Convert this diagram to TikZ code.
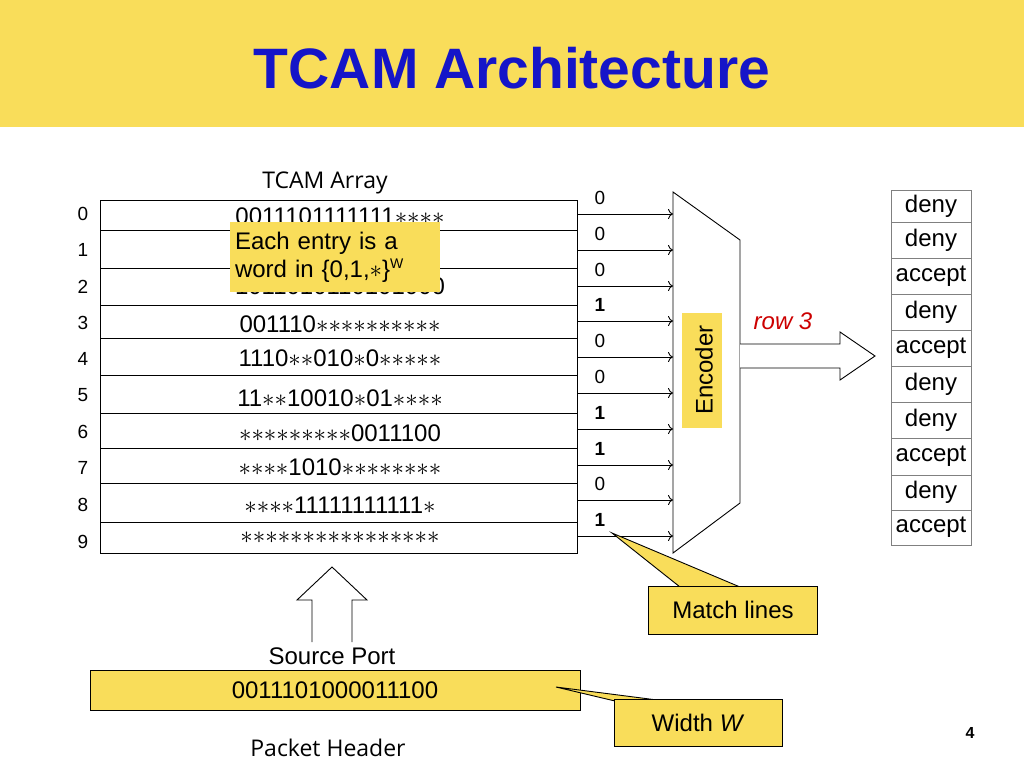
\documentclass[tikz,border=0pt]{standalone}
\usepackage{fontspec}
\setmainfont{Liberation Sans}
\newfontfamily\opensans{Open Sans}
\usepackage{xcolor}
\usetikzlibrary{arrows.meta}
\definecolor{slideyellow}{HTML}{F9DD5A}
\definecolor{titleblue}{HTML}{1515C8}
\newcommand{\st}{\ensuremath{\ast}}
\tikzset{
  big/.style={font=\fontsize{24}{28}\selectfont},
  small/.style={font=\fontsize{19}{22}\selectfont},
  yelbox/.style={fill=slideyellow,draw=black},
}
\begin{document}
\begin{tikzpicture}[x=1pt,y=-1pt,line width=0.9pt]
  \useasboundingbox (0,0) rectangle (1024,768);
  % title band
  \fill[slideyellow] (0,0) rectangle (1024,127);
  \node[font=\fontsize{57}{64}\selectfont\bfseries,text=titleblue] (title) at (512,68) {TCAM Architecture};

  % array rows
  \node[font=\opensans\fontsize{23}{28}\selectfont] (arrtitle) at (325,183) {TCAM Array};
  \foreach \ya/\yb [count=\i from 0] in {200/230,230/268,268/305,305/338,338/375,375/413,413/448,448/483,483/522,522/553}
    \draw[fill=white] (100,\ya) rectangle (577,\yb);
  \foreach \y/\t [count=\i from 0] in {
      216/0011101111111\st\st\st\st,
      250/1110101111110\st\st\st,
      286/1011010110101000,
      324/001110\st\st\st\st\st\st\st\st\st\st,
      358/1110\st\st010\st0\st\st\st\st\st,
      398/11\st\st10010\st01\st\st\st\st,
      433/\st\st\st\st\st\st\st\st\st0011100,
      467/\st\st\st\st1010\st\st\st\st\st\st\st\st,
      505/\st\st\st\st11111111111\st,
      538/\st\st\st\st\st\st\st\st\st\st\st\st\st\st\st\st}
    \node[big] (row\i) at (340,\y) {\t};
  \foreach \y [count=\i from 0] in {214,250,287,323,359,395,432,468,505,542}
    \node[small] (idx\i) at (83,\y) {\i};

  % callout on the array
  \node[fill=slideyellow,big,align=left,minimum width=210pt,minimum height=70pt,text width=200pt,inner sep=5pt] (entry) at (335,257)
    {Each entry is a\\ word in \{0,1,\st\}\textsuperscript{\fontsize{14}{16}\selectfont W}};

  % encoder
  \draw[fill=white] (673,192) -- (740,240) -- (740,503) -- (673,553) -- cycle;
  \fill[slideyellow] (682,313) rectangle (722,428);
  \node[big,rotate=90] (enc) at (704,370) {Encoder};

  % match lines
  \foreach \y/\b [count=\i from 0] in {214/0,250/0,286/0,321/\textbf{1},357/0,393/0,429/\textbf{1},465/\textbf{1},500/0,536/\textbf{1}} {
    \coordinate (ml\i) at (577,\y);
    \coordinate (mr\i) at (673,\y);
    \draw[-{To[length=5pt,width=10pt]}] (ml\i) -- (mr\i);
    \node[small] (bit\i) at (600,\y-16) {\b};
  }

  % output arrow
  \draw[fill=white] (740,344) -- (840,344) -- (840,332) -- (875,356) -- (840,380) -- (840,368) -- (740,368);
  \node[text=red!80!black,font=\itshape\fontsize{24}{28}\selectfont] (row3) at (783,321) {row 3};

  % action table
  \foreach \ya/\yb/\t in {190/222/deny,222/258/deny,258/294/accept,294/330/deny,330/366/accept,366/402/deny,402/438/deny,438/475/accept,475/510/deny,510/545/accept}
    \draw[draw=gray] (891,\ya) rectangle node[big,text=black] {\t} (971,\yb);

  % match lines callout
  \fill[slideyellow] (680,587) -- (612,533) -- (740,587) -- cycle;
  \draw (680,587) -- (612,533) -- (740,587);
  \node[yelbox,big,minimum width=169pt,minimum height=48pt] (mlbox) at (733,610) {Match lines};

  % packet header
  \draw[fill=white] (312,642) -- (312,600) -- (297,600) -- (332,567) -- (367,600) -- (352,600) -- (352,642);
  \node[big] (srcport) at (332,656) {Source Port};
  \node[yelbox,big,minimum width=490pt,minimum height=40pt] (hdr) at (335,690) {0011101000011100};
  \fill[slideyellow] (615,701) -- (556,687) -- (665,701) -- cycle;
  \draw (615,701) -- (556,687) -- (665,701);
  \node[yelbox,big,minimum width=168pt,minimum height=47pt] (wbox) at (698,723) {Width \textit{W}};
  \node[font=\opensans\fontsize{23}{28}\selectfont] (pkt) at (328,748) {Packet Header};
  \node[font=\bfseries\fontsize{16}{18}\selectfont] (pagenum) at (970,733) {4};
\end{tikzpicture}
\end{document}
